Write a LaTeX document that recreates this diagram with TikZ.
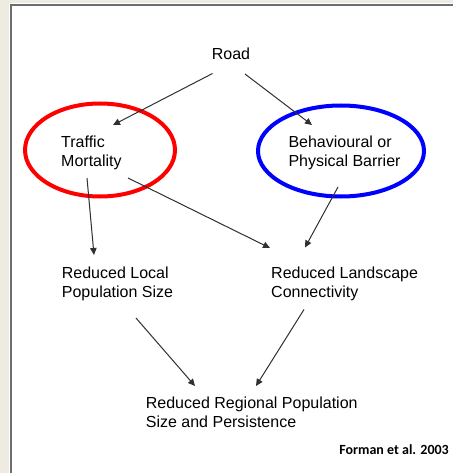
\documentclass[tikz,border=0pt]{standalone}
\usepackage{fontspec}
\setmainfont{Liberation Sans}
\newfontfamily\carl{Carlito}
\usetikzlibrary{arrows.meta,shapes.geometric}
\definecolor{pagebeige}{HTML}{EEECE1}
\definecolor{framegray}{HTML}{6E6E6E}
\definecolor{arrowgray}{HTML}{303030}
\tikzset{
  lbl/.style={anchor=base west,inner sep=0pt,align=left,font=\fontsize{16}{19.3}\selectfont},
  ring/.style={ellipse,line width=4pt,inner sep=0pt},
  link/.style={draw=arrowgray,line width=1pt,-{Triangle[length=7pt,width=6.5pt]}}
}
\begin{document}
\begin{tikzpicture}[x=1pt,y=-1pt]
\useasboundingbox (0,0) rectangle (453,473);
\fill[pagebeige] (0,0) rectangle (453,473);
\fill[white] (9,3) rectangle (453,473);
\draw[framegray,line width=2pt] (11,473) -- (11,5) -- (453,5);
% rings
\node[ring,draw=red,minimum width=150pt,minimum height=93pt] (redring) at (100,150) {};
\node[ring,draw=blue,minimum width=166pt,minimum height=91pt] (bluering) at (341,151) {};
% texts (base anchor = baseline of the last line)
\node[anchor=base,inner sep=0pt,font=\fontsize{16}{19.3}\selectfont] (road) at (231,60) {Road};
\node[lbl] (traf) at (61,166.3) {Traffic\\Mortality};
\node[lbl] (behav) at (288.3,166.3) {Behavioural or\\Physical Barrier};
\node[lbl] (local) at (61.7,297.6) {Reduced Local\\Population Size};
\node[lbl] (land) at (271,297.6) {Reduced Landscape\\Connectivity};
\node[lbl] (reg) at (145.7,427.6) {Reduced Regional Population\\Size and Persistence};
\node[anchor=base east,inner sep=0pt,font=\carl\bfseries\fontsize{14}{16}\selectfont] (cite) at (449,454) {Forman et al. 2003};
% connectors
\draw[link] ([shift={(-18.5,13.5)}]road.base) -- ([shift={(52,-41.3)}]traf.base west);
\draw[link] ([shift={(14,14)}]road.base) -- ([shift={(23.7,-41.3)}]behav.base west);
\draw[link] ([shift={(26,11.7)}]traf.base west) -- ([shift={(32.3,-42.6)}]local.base west);
\draw[link] ([shift={(67,11.7)}]traf.base west) -- ([shift={(-1,-49.6)}]land.base west);
\draw[link] ([shift={(49.7,20.7)}]behav.base west) -- ([shift={(34,-50.1)}]land.base west);
\draw[link] ([shift={(74.3,20.4)}]local.base west) -- ([shift={(49.3,-41.6)}]reg.base west);
\draw[link] ([shift={(33,11.9)}]land.base west) -- ([shift={(110.3,-41.6)}]reg.base west);
\end{tikzpicture}
\end{document}
